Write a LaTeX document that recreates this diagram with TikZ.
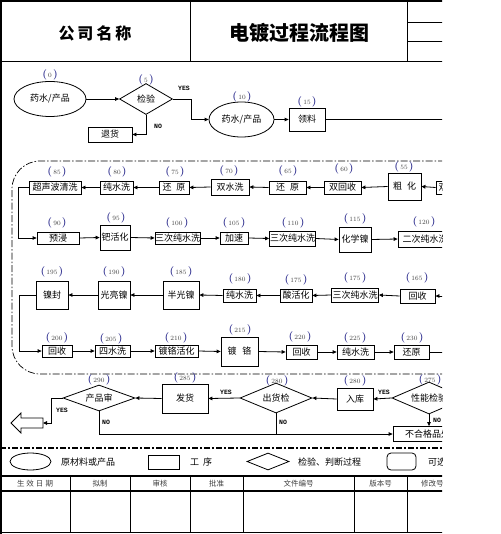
\documentclass[tikz,border=0pt]{standalone}
\usepackage{fontspec}
\newfontfamily\cjk{Noto Sans CJK SC}
\newfontfamily\monof{Liberation Mono}
\usetikzlibrary{shapes.geometric,arrows.meta}
\definecolor{lblblue}{RGB}{60,60,150}
\newcommand\stepno[1]{\textcolor{lblblue}{\fontsize{10.5}{10}\selectfont\bfseries(}\hspace{1.2pt}#1\hspace{1.2pt}\textcolor{lblblue}{\fontsize{10.5}{10}\selectfont\bfseries)}}
\begin{document}
\begin{tikzpicture}[x=1pt,y=-1pt,
  box/.style={draw, line width=0.8pt, inner sep=0pt, font=\cjk\fontsize{9}{9}\selectfont},
  ell/.style={ellipse, draw, line width=0.8pt, inner sep=0pt, font=\cjk\fontsize{9}{9}\selectfont},
  dia/.style={diamond, aspect=2.3, draw, line width=0.8pt, inner sep=0pt, font=\cjk\fontsize{9}{9}\selectfont},
  lbl/.style={inner sep=0pt, font=\fontsize{6.5}{6.5}\selectfont, text=black!75},
  conn/.style={line width=0.8pt, -{Triangle[length=4pt,width=3.6pt]}},
  plain/.style={line width=0.8pt},
  yn/.style={inner sep=0pt, font=\monof\bfseries\fontsize{6.5}{7}\selectfont},
  txt/.style={inner sep=0pt, font=\cjk\fontsize{9}{9}\selectfont},
  hdr/.style={inner sep=0pt, font=\cjk\fontsize{7.5}{8}\selectfont, text=black!75},
  dashdotline/.style={line width=0.7pt, dash pattern=on 7pt off 2pt on 1.5pt off 2pt},
  sepline/.style={line width=1.6pt, dash pattern=on 6pt off 2pt on 2pt off 2pt}]
\useasboundingbox (0,0) rectangle (500,534);
\begin{scope}
\clip (0,0) rectangle (442,534);
% header frame
\draw[line width=2.5pt] (0,1.2) -- (460,1.2);
\draw[line width=2.5pt] (1.2,0) -- (1.2,534);
\draw[line width=1pt] (0,62) -- (460,62);
\draw[line width=1pt] (190,1) -- (190,62);
\draw[line width=1pt] (407,1) -- (407,62);
\draw[line width=0.6pt] (407,22) -- (460,22);
\draw[line width=1pt] (407,42) -- (460,42);
\node[inner sep=0pt, font=\cjk\bfseries\fontsize{16}{16}\selectfont] (company) at (95,33) {公\hspace{3pt}司\hspace{3pt}名\hspace{3pt}称};
\node[inner sep=0pt, font=\cjk\bfseries\fontsize{20}{20}\selectfont] (title) at (299,33) {电镀过程流程图};

% row 1
\node[ell, minimum width=72pt, minimum height=35pt] (e0) at (50,99) {药水/产品};
\node[lbl] (l0) at (50,75) {\stepno{0}};
\node[dia, minimum width=53pt, minimum height=31pt] (d5) at (146,99) {检验};
\node[lbl] (l5) at (146,80) {\stepno{5}};
\node[box, minimum width=44pt, minimum height=15pt] (nret) at (110,134.5) {退货};
\node[ell, minimum width=65pt, minimum height=35pt] (e10) at (241.5,119.5) {药水/产品};
\node[lbl] (l10) at (242,97) {\stepno{10}};
\node[box, minimum width=36pt, minimum height=23pt] (b15) at (307,119.5) {领料};
\node[lbl] (l15) at (307,102) {\stepno{15}};
\coordinate (r1) at (460,119.5);
\node[yn] (yes5) at (184,88) {YES};
\node[yn] (no5) at (158,126) {NO};
\draw[conn] (e0.east) -- (d5.west);
\draw[conn] (d5.east) -- ++(18,0) |- (e10.west);
\draw[conn] (d5.south) |- (nret.east);
\draw[conn] (e10.east) -- (b15.west);
\draw[plain] (b15.east) -- (r1);

% dash-dot frame
\draw[dashdotline, rounded corners=28pt] (470,161) -- (12,161) -- (12,374) -- (470,374);

% row 2
\node[box, minimum width=32pt, minimum height=13pt] (b50) at (452,187.5) {双水洗};
\node[box, minimum width=33pt, minimum height=27pt] (b55) at (404.5,186.5) {粗\hspace{5pt}化};
\node[lbl] (l55) at (404,167) {\stepno{55}};
\node[box, minimum width=37pt, minimum height=13pt] (b60) at (342.5,187.5) {双回收};
\node[lbl] (l60) at (344,169) {\stepno{60}};
\node[box, minimum width=37pt, minimum height=13pt] (b65) at (287.5,187.5) {还\hspace{5pt}原};
\node[lbl] (l65) at (288,171) {\stepno{65}};
\node[box, minimum width=38pt, minimum height=16pt] (b70) at (230,187) {双水洗};
\node[lbl] (l70) at (229,171) {\stepno{70}};
\node[box, minimum width=30pt, minimum height=13pt] (b75) at (174,187.5) {还\hspace{5pt}原};
\node[lbl] (l75) at (175,172) {\stepno{75}};
\node[box, minimum width=33pt, minimum height=13pt] (b80) at (116.5,187.5) {纯水洗};
\node[lbl] (l80) at (117,172) {\stepno{80}};
\node[box, minimum width=52pt, minimum height=13pt] (b85) at (55,187.5) {超声波清洗};
\node[lbl] (l85) at (57,172) {\stepno{85}};
\draw[conn] (b50.west) -- (b55.east);
\draw[conn] (b55.west) -- (b60.east);
\draw[conn] (b60.west) -- (b65.east);
\draw[conn] (b65.west) -- (b70.east);
\draw[conn] (b70.west) -- (b75.east);
\draw[conn] (b75.west) -- (b80.east);
\draw[conn] (b80.west) -- (b85.east);

% row 3
\node[box, minimum width=42pt, minimum height=12pt] (b90) at (58,238) {预浸};
\node[lbl] (l90) at (57,223) {\stepno{90}};
\node[box, minimum width=30pt, minimum height=25pt] (b95) at (115,237.5) {钯活化};
\node[lbl] (l95) at (116,218) {\stepno{95}};
\node[box, minimum width=44pt, minimum height=12pt] (b100) at (177.5,238) {三次纯水洗};
\node[lbl] (l100) at (177,223) {\stepno{100}};
\node[box, minimum width=28pt, minimum height=12pt] (b105) at (234,238) {加速};
\node[lbl] (l105) at (234,223) {\stepno{105}};
\node[box, minimum width=46pt, minimum height=15pt] (b110) at (292.5,238.5) {三次纯水洗};
\node[lbl] (l110) at (293,223) {\stepno{110}};
\node[box, minimum width=32pt, minimum height=25pt] (b115) at (355,239.5) {化学镍};
\node[lbl] (l115) at (355,219) {\stepno{115}};
\node[box, minimum width=54pt, minimum height=16pt] (b120) at (425,239) {二次纯水洗};
\node[lbl] (l120) at (424,222) {\stepno{120}};
\draw[conn] (b85.west) -- ++(-10,0) |- (b90.west);
\draw[conn] (b90.east) -- (b95.west);
\draw[conn] (b95.east) -- (b100.west);
\draw[conn] (b100.east) -- (b105.west);
\draw[conn] (b105.east) -- (b110.west);
\draw[conn] (b110.east) -- (b115.west);
\draw[conn] (b115.east) -- (b120.west);

% row 4
\coordinate (r4) at (460,296);
\node[box, minimum width=35pt, minimum height=14pt] (b165) at (417.5,296) {回收};
\node[lbl] (l165) at (417,278) {\stepno{165}};
\node[box, minimum width=47pt, minimum height=14pt] (b170) at (355,295) {三次纯水洗};
\node[lbl] (l170) at (355,278) {\stepno{175}};
\node[box, minimum width=32pt, minimum height=13pt] (b175) at (296,295.5) {酸活化};
\node[lbl] (l175) at (296,280) {\stepno{175}};
\node[box, minimum width=33pt, minimum height=13pt] (b180) at (239.5,295.5) {纯水洗};
\node[lbl] (l180) at (240,279) {\stepno{180}};
\node[box, minimum width=36pt, minimum height=28pt] (b185) at (181,295) {半光镍};
\node[lbl] (l185) at (181,272) {\stepno{185}};
\node[box, minimum width=32pt, minimum height=28pt] (b190) at (114,295) {光亮镍};
\node[lbl] (l190) at (114,272) {\stepno{190}};
\node[box, minimum width=32pt, minimum height=28pt] (b195) at (52,295) {镍封};
\node[lbl] (l195) at (52,272) {\stepno{195}};
\draw[conn] (r4) -- (b165.east);
\draw[conn] (b165.west) -- (b170.east);
\draw[conn] (b170.west) -- (b175.east);
\draw[conn] (b175.west) -- (b180.east);
\draw[conn] (b180.west) -- (b185.east);
\draw[conn] (b185.west) -- (b190.east);
\draw[conn] (b190.west) -- (b195.east);

% row 5
\node[box, minimum width=30pt, minimum height=12pt] (b200) at (57,351) {回收};
\node[lbl] (l200) at (57,338) {\stepno{200}};
\node[box, minimum width=35pt, minimum height=12pt] (b205) at (112.5,351) {四水洗};
\node[lbl] (l205) at (111,339) {\stepno{205}};
\node[box, minimum width=43pt, minimum height=12pt] (b210) at (176.5,351) {镀铬活化};
\node[lbl] (l210) at (176,338) {\stepno{210}};
\node[box, minimum width=37pt, minimum height=29pt] (b215) at (239.5,351.5) {镀\hspace{6pt}铬};
\node[lbl] (l215) at (240,330) {\stepno{215}};
\node[box, minimum width=31pt, minimum height=14pt] (b220) at (301.5,352) {回收};
\node[lbl] (l220) at (300,337) {\stepno{220}};
\node[box, minimum width=37pt, minimum height=14pt] (b225) at (355.5,352) {纯水洗};
\node[lbl] (l225) at (355,338) {\stepno{225}};
\node[box, minimum width=35pt, minimum height=14pt] (b230) at (411.5,352) {还原};
\node[lbl] (l230) at (412,338) {\stepno{230}};
\coordinate (r5) at (460,352);
\draw[conn] (b195.west) -- ++(-16,0) |- (b200.west);
\draw[conn] (b200.east) -- (b205.west);
\draw[conn] (b205.east) -- (b210.west);
\draw[conn] (b210.east) -- (b215.west);
\draw[conn] (b215.east) -- (b220.west);
\draw[conn] (b220.east) -- (b225.west);
\draw[conn] (b225.east) -- (b230.west);
\draw[plain] (b230.east) -- (r5);

% row 6
\node[dia, minimum width=74pt, minimum height=32pt] (d275) at (429,398) {性能检验};
\node[lbl] (l275) at (430,380) {\stepno{275}};
\node[box, minimum width=36pt, minimum height=22pt] (b280) at (355,399) {入库};
\node[lbl] (l280b) at (355,381) {\stepno{280}};
\node[dia, minimum width=72pt, minimum height=30pt] (d280) at (276,398) {出货检};
\node[lbl] (l280d) at (277,381) {\stepno{280}};
\node[box, minimum width=46pt, minimum height=29pt] (b285) at (185,398.5) {发货};
\node[lbl] (l285) at (185,378) {\stepno{285}};
\node[dia, minimum width=72pt, minimum height=26pt] (d290) at (99,398) {产品审};
\node[lbl] (l290) at (99,380) {\stepno{290}};
\node[box, minimum width=78pt, minimum height=15pt] (nrej) at (432,434) {不合格品处理};
\draw[line width=0.8pt] (43,418) -- (21,418) -- (21,413) -- (11,423) -- (21,433) -- (21,428) -- (43,428) -- cycle;
\coordinate (exitr) at (43,423);
\draw[conn] (d275.west) -- (b280.east);
\draw[conn] (b280.west) -- (d280.east);
\draw[conn] (d280.west) -- (b285.east);
\draw[conn] (b285.west) -- (d290.east);
\draw[conn] (d290.west) -- ++(-11,0) |- (exitr);
\draw[conn] (d290.south) |- (nrej.west);
\draw[plain] (d280.south) -- (d280.south |- nrej.west);
\draw[conn] (d275.south) -- (d275.south |- nrej.north);
\node[yn] (yes275) at (384,392) {YES};
\node[yn] (yes280) at (226,392) {YES};
\node[yn] (yes290) at (62,410) {YES};
\node[yn] (no290) at (106,422) {NO};
\node[yn] (no280) at (283,422) {NO};
\node[yn] (no275) at (437,420) {NO};

% separator
\draw[sepline] (0,448) -- (470,448);

% legend
\node[ellipse, draw, line width=0.8pt, minimum width=41pt, minimum height=17pt, inner sep=0pt] (lg1) at (30.5,461.5) {};
\node[txt, anchor=west] (lt1) at (61,462) {原材料或产品};
\node[draw, line width=0.8pt, minimum width=31pt, minimum height=14pt, inner sep=0pt] (lg2) at (163.5,462) {};
\node[txt, anchor=west] (lt2) at (190,462) {工\hspace{4pt}序};
\node[diamond, draw, line width=0.8pt, minimum width=42pt, minimum height=17pt, inner sep=0pt] (lg3) at (268,461.5) {};
\node[txt, anchor=west] (lt3) at (298,462) {检验、判断过程};
\node[draw, line width=0.8pt, rounded corners=4pt, minimum width=29pt, minimum height=17pt, inner sep=0pt] (lg4) at (401.5,461.5) {};
\node[txt, anchor=west] (lt4) at (428,462) {可选过程};

% table
\draw[line width=1.2pt] (0,476) -- (470,476);
\draw[line width=1.4pt] (0,491) -- (470,491);
\draw[line width=1.6pt] (0,532.5) -- (470,532.5);
\foreach \xx in {70,130,190,243,354,407} \draw[line width=1pt] (\xx,476) -- (\xx,532.5);
\node[hdr] (h1) at (35,483.5) {生\hspace{2pt}效\hspace{2pt}日\hspace{2pt}期};
\node[hdr] (h2) at (100,483.5) {拟制};
\node[hdr] (h3) at (160,483.5) {审核};
\node[hdr] (h4) at (216.5,483.5) {批准};
\node[hdr] (h5) at (298.5,483.5) {文件编号};
\node[hdr] (h6) at (380.5,483.5) {版本号};
\node[hdr, anchor=west] (h7) at (421,483.5) {修改号};
\end{scope}
\end{tikzpicture}
\end{document}
